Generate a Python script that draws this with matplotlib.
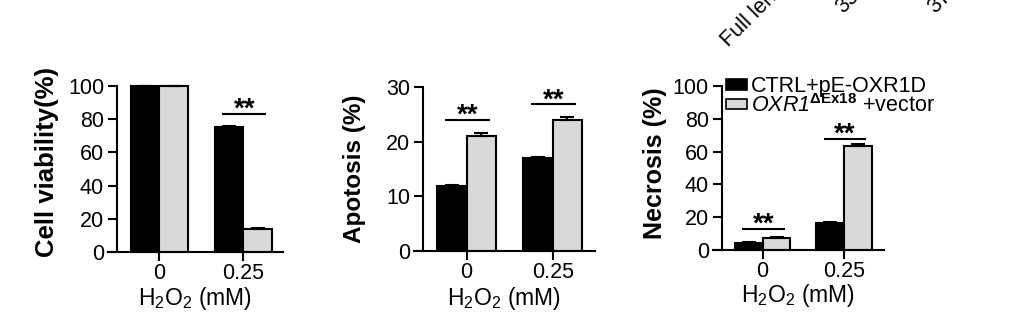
import matplotlib
matplotlib.use("Agg")
import matplotlib.pyplot as plt
from matplotlib.patches import Patch
import numpy as np

plt.rcParams['font.family'] = ['Liberation Sans', 'DejaVu Sans']
plt.rcParams['mathtext.fontset'] = 'custom'
plt.rcParams['mathtext.rm'] = 'Liberation Sans'
plt.rcParams['mathtext.it'] = 'Liberation Sans:italic'
plt.rcParams['mathtext.sf'] = 'Liberation Sans:italic'
plt.rcParams['mathtext.bf'] = 'Liberation Sans:bold'

# ---- data ----
doses = ["0", "0.25"]
series_names = ["CTRL+pE-OXR1D", r"$\mathsf{OXR1}^{\mathbf{\Delta Ex18}}$ +vector"]

viab_ctrl = [100, 75]
viab_ctrl_err = [0.3, 0.8]
viab_oxr = [100, 14]
viab_oxr_err = [0.3, 0.4]
viab_sig = [None, 83]

apop_ctrl = [11.8, 17.0]
apop_ctrl_err = [0.3, 0.2]
apop_oxr = [21.0, 23.9]
apop_oxr_err = [0.6, 0.7]
apop_sig = [24.0, 26.8]

necr_ctrl = [4.3, 16.5]
necr_ctrl_err = [0.5, 0.6]
necr_oxr = [7.1, 63.6]
necr_oxr_err = [0.9, 1.0]
necr_sig = [12.8, 67.5]

top_labels = ["Full length", "35", "37"]

W, H = 1032, 319
fig = plt.figure(figsize=(W / 100, H / 100), dpi=100)

def rect(l, r, b, t):
    return [l / W, 1 - b / H, (r - l) / W, (b - t) / H]

panels = [
    dict(pos=rect(108, 283, 252, 86), ctrl=viab_ctrl, ce=viab_ctrl_err, oxr=viab_oxr, oe=viab_oxr_err,
         sig=viab_sig, ymax=100, yticks=[0, 20, 40, 60, 80, 100], ylabel="Cell viability(%)", ylfs=18.5,
         ylx=-0.349, yly=0.545, xlbase=305, xlim=(-0.61, 1.47)),
    dict(pos=rect(414, 595, 251, 87), ctrl=apop_ctrl, ce=apop_ctrl_err, oxr=apop_oxr, oe=apop_oxr_err,
         sig=apop_sig, ymax=30, yticks=[0, 10, 20, 30], ylabel="Apotosis (%)", ylfs=17.5,
         ylx=-0.326, yly=0.5, xlbase=305, xlim=(-0.61, 1.49)),
    dict(pos=rect(713, 884, 250, 86), ctrl=necr_ctrl, ce=necr_ctrl_err, oxr=necr_oxr, oe=necr_oxr_err,
         sig=necr_sig, ymax=100, yticks=[0, 20, 40, 60, 80, 100], ylabel="Necrosis (%)", ylfs=18,
         ylx=-0.342, yly=0.527, xlbase=302, xlim=(-0.61, 1.49)),
]

bw = 0.34
gray = "#d9d9d9"
lw = 1.5
x = np.arange(len(doses))

for i, p in enumerate(panels):
    ax = fig.add_axes(p["pos"])
    ax.bar(x - bw / 2, p["ctrl"], bw, color="black", edgecolor="black", linewidth=lw, clip_on=False, zorder=2)
    ax.bar(x + bw / 2, p["oxr"], bw, color=gray, edgecolor="black", linewidth=lw, clip_on=False, zorder=2)
    for xs, vals, errs in [(x - bw / 2, p["ctrl"], p["ce"]), (x + bw / 2, p["oxr"], p["oe"])]:
        eb = ax.errorbar(xs, vals, yerr=[np.zeros(len(errs)), errs], fmt="none", ecolor="black",
                         elinewidth=lw, capsize=5, capthick=lw, zorder=3)
        for c in eb.get_children():
            c.set_clip_on(False)
    for gi, s in enumerate(p["sig"]):
        if s is None:
            continue
        x0, x1 = x[gi] - 0.25, x[gi] + 0.27
        ax.plot([x0, x1], [s, s], color="black", lw=lw, clip_on=False, solid_capstyle="butt")
        ax.annotate("**", xy=((x0 + x1) / 2, s), xytext=(0, -2), textcoords="offset points",
                    ha="center", va="baseline", fontsize=20, fontweight="bold", annotation_clip=False)
    ax.set_xlim(*p["xlim"])
    ax.set_ylim(0, p["ymax"])
    ax.set_yticks(p["yticks"])
    ax.set_xticks(x)
    ax.set_xticklabels(doses)
    for side in ["top", "right"]:
        ax.spines[side].set_visible(False)
    ax.spines["left"].set_position(("data", -0.5))
    ax.spines["left"].set_linewidth(lw)
    ax.spines["bottom"].set_linewidth(lw)
    ax.tick_params(axis="both", direction="out", length=6.5, width=lw, labelsize=15.5)
    ax.tick_params(axis="y", pad=3)
    ax.tick_params(axis="x", pad=1.5)
    ax.text(p["ylx"], p["yly"], p["ylabel"], transform=ax.transAxes, rotation=90,
            ha="center", va="center", fontsize=p["ylfs"], fontweight="bold")
    cx = p["pos"][0] + p["pos"][2] / 2
    fig.text(cx, 1 - p["xlbase"] / H, r"H$_2$O$_2$ (mM)",
             ha="center", va="baseline", fontsize=16.5)
    if i == 2:
        handles = [Patch(facecolor="black", edgecolor="black", linewidth=1.2),
                   Patch(facecolor=gray, edgecolor="black", linewidth=1.2)]
        ax.legend(handles, series_names, loc="upper left", bbox_to_anchor=(0.075, 1.06),
                  frameon=False, fontsize=15.5, handlelength=1.0, handleheight=0.38,
                  handletextpad=0.15, labelspacing=-0.15, borderpad=0, borderaxespad=0)

# clipped rotated labels from the panel above
for lab, (px, py) in zip(top_labels, [(728, 47), (843, 14), (935, 14)]):
    fig.text(px / W, 1 - py / H, lab, rotation=45, rotation_mode="anchor",
             ha="left", va="baseline", fontsize=15.5)

fig.savefig("out.png", dpi=100)
